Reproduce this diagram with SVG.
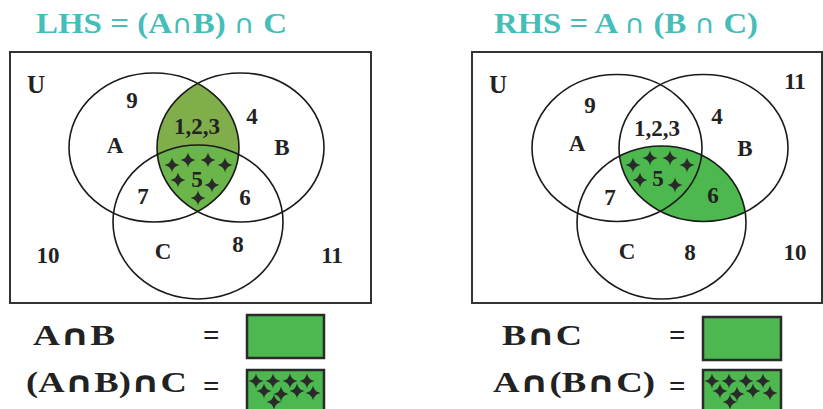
<svg xmlns="http://www.w3.org/2000/svg" xmlns:xlink="http://www.w3.org/1999/xlink" width="823" height="409" viewBox="0 0 823 409">
  <style>
    .title { font-family: "Liberation Serif", "Times New Roman", serif; font-weight: bold; font-size: 30px; fill: #45bdb8; }
    .lbl { font-family: "Liberation Serif", "Times New Roman", serif; font-weight: bold; font-size: 23px; fill: #222; text-anchor: middle; }
    .u { font-family: "Liberation Serif", "Times New Roman", serif; font-weight: bold; font-size: 25px; fill: #222; text-anchor: middle; }
    .leg { font-family: "Liberation Serif", "Times New Roman", serif; font-weight: bold; font-size: 29px; fill: #222; }
    .cap { font-family: "DejaVu Sans", sans-serif; font-weight: bold; font-size: 29px; }
    .capt { font-family: "DejaVu Sans", sans-serif; font-weight: normal; font-size: 26px; }
    .box { fill: none; stroke: #333; stroke-width: 2; }
    .set { fill: none; stroke: #1a1a1a; stroke-width: 1.6; }
    .swatch { fill: #4cb84f; stroke: #2a2a2a; stroke-width: 2.5; }
    .star { fill: #2a2a2a; }
  </style>
  <defs>
    <!-- four-pointed sparkle used as the hatch mark -->
    <path id="star" d="M0,-7.5 Q1.2,-1.2 7.5,0 Q1.2,1.2 0,7.5 Q-1.2,1.2 -7.5,0 Q-1.2,-1.2 0,-7.5Z"/>
    <clipPath id="clipLA"><ellipse cx="154" cy="147.5" rx="85" ry="74.5"/></clipPath>
    <clipPath id="clipLB"><ellipse cx="240.5" cy="147.5" rx="83.5" ry="74.5"/></clipPath>
    <clipPath id="clipLC"><ellipse cx="198" cy="222" rx="85" ry="77"/></clipPath>
    <clipPath id="clipRB"><ellipse cx="703.5" cy="148" rx="84.5" ry="73.5"/></clipPath>
  </defs>

  <rect width="823" height="409" fill="#ffffff"/>

  <!-- left diagram: (A ∩ B) ∩ C -->
  <g id="lhs">
    <text class="title" x="36" y="33" textLength="251" lengthAdjust="spacingAndGlyphs">LHS = (A<tspan class="capt">∩</tspan>B) <tspan class="capt">∩</tspan> C</text>
    <rect class="box" x="10" y="52" width="361" height="251"/>
    <g id="lhs-shade">
      <g clip-path="url(#clipLA)">
        <ellipse cx="240.5" cy="147.5" rx="83.5" ry="74.5" fill="#80ae4a" clip-path="url(#clipLB)"/>
        <g clip-path="url(#clipLB)">
          <ellipse cx="198" cy="222" rx="85" ry="77" fill="#6bb64a" clip-path="url(#clipLC)"/>
        </g>
      </g>
      <g class="star">
        <use xlink:href="#star" x="172" y="165"/>
        <use xlink:href="#star" x="188" y="160"/>
        <use xlink:href="#star" x="208" y="160"/>
        <use xlink:href="#star" x="225" y="165"/>
        <use xlink:href="#star" x="178" y="180"/>
        <use xlink:href="#star" x="212" y="185"/>
        <use xlink:href="#star" x="198" y="198"/>
      </g>
    </g>
    <g id="lhs-A"><ellipse class="set" cx="154" cy="147.5" rx="85" ry="74.5"/></g>
    <g id="lhs-B"><ellipse class="set" cx="240.5" cy="147.5" rx="83.5" ry="74.5"/></g>
    <g id="lhs-C"><ellipse class="set" cx="198" cy="222" rx="85" ry="77"/></g>
    <text class="u" x="36" y="93">U</text>
    <text class="lbl" x="132" y="108">9</text>
    <text class="lbl" x="115" y="153">A</text>
    <text class="lbl" x="197" y="134">1,2,3</text>
    <text class="lbl" x="252" y="124">4</text>
    <text class="lbl" x="282" y="155">B</text>
    <text class="lbl" x="197" y="187">5</text>
    <text class="lbl" x="143" y="204">7</text>
    <text class="lbl" x="245" y="205">6</text>
    <text class="lbl" x="48" y="263">10</text>
    <text class="lbl" x="163" y="259">C</text>
    <text class="lbl" x="238" y="252">8</text>
    <text class="lbl" x="332" y="263">11</text>
  </g>

  <!-- right diagram: A ∩ (B ∩ C) -->
  <g id="rhs">
    <text class="title" x="494" y="33" textLength="264" lengthAdjust="spacingAndGlyphs">RHS = A <tspan class="capt">∩</tspan> (B <tspan class="capt">∩</tspan> C)</text>
    <rect class="box" x="472" y="52" width="350" height="251"/>
    <g id="rhs-shade">
      <ellipse cx="661.5" cy="222.5" rx="84.5" ry="76.5" fill="#4db84d" clip-path="url(#clipRB)"/>
      <g class="star">
        <use xlink:href="#star" x="633" y="165"/>
        <use xlink:href="#star" x="650" y="158"/>
        <use xlink:href="#star" x="670" y="158"/>
        <use xlink:href="#star" x="687" y="165"/>
        <use xlink:href="#star" x="640" y="180"/>
        <use xlink:href="#star" x="675" y="185"/>
      </g>
    </g>
    <g id="rhs-A"><ellipse class="set" cx="617" cy="148" rx="85" ry="73.5"/></g>
    <g id="rhs-B"><ellipse class="set" cx="703.5" cy="148" rx="84.5" ry="73.5"/></g>
    <g id="rhs-C"><ellipse class="set" cx="661.5" cy="222.5" rx="84.5" ry="76.5"/></g>
    <text class="u" x="498" y="93">U</text>
    <text class="lbl" x="795" y="89">11</text>
    <text class="lbl" x="590" y="113">9</text>
    <text class="lbl" x="577" y="151">A</text>
    <text class="lbl" x="657" y="136">1,2,3</text>
    <text class="lbl" x="717" y="124">4</text>
    <text class="lbl" x="745" y="156">B</text>
    <text class="lbl" x="658" y="186">5</text>
    <text class="lbl" x="610" y="205">7</text>
    <text class="lbl" x="713" y="203">6</text>
    <text class="lbl" x="627" y="259">C</text>
    <text class="lbl" x="690" y="260">8</text>
    <text class="lbl" x="795" y="260">10</text>
  </g>

  <!-- legends -->
  <g id="legend-left">
    <text class="leg" x="33" y="345" textLength="82" lengthAdjust="spacingAndGlyphs">A<tspan class="cap">∩</tspan>B</text>
    <text class="leg" x="203" y="345">=</text>
    <rect class="swatch" x="247" y="315" width="77" height="43"/>
    <text class="leg" x="26" y="392" textLength="161" lengthAdjust="spacingAndGlyphs">(A<tspan class="cap">∩</tspan>B)<tspan class="cap">∩</tspan>C</text>
    <text class="leg" x="203" y="396">=</text>
    <rect class="swatch" x="247" y="370" width="77" height="44"/>
    <g class="star">
      <use xlink:href="#star" x="256" y="381"/>
      <use xlink:href="#star" x="273" y="381"/>
      <use xlink:href="#star" x="290" y="381"/>
      <use xlink:href="#star" x="307" y="381"/>
      <use xlink:href="#star" x="264" y="391"/>
      <use xlink:href="#star" x="281" y="394"/>
      <use xlink:href="#star" x="297" y="391"/>
      <use xlink:href="#star" x="313" y="393"/>
      <use xlink:href="#star" x="274" y="402"/>
    </g>
  </g>
  <g id="legend-right">
    <text class="leg" x="502" y="345" textLength="80" lengthAdjust="spacingAndGlyphs">B<tspan class="cap">∩</tspan>C</text>
    <text class="leg" x="669" y="345">=</text>
    <rect class="swatch" x="703" y="317" width="78" height="43"/>
    <text class="leg" x="493" y="392" textLength="162" lengthAdjust="spacingAndGlyphs">A<tspan class="cap">∩</tspan>(B<tspan class="cap">∩</tspan>C)</text>
    <text class="leg" x="669" y="396">=</text>
    <rect class="swatch" x="703" y="370" width="78" height="44"/>
    <g class="star">
      <use xlink:href="#star" x="712" y="381"/>
      <use xlink:href="#star" x="729" y="381"/>
      <use xlink:href="#star" x="746" y="381"/>
      <use xlink:href="#star" x="763" y="381"/>
      <use xlink:href="#star" x="720" y="391"/>
      <use xlink:href="#star" x="737" y="394"/>
      <use xlink:href="#star" x="753" y="391"/>
      <use xlink:href="#star" x="770" y="393"/>
      <use xlink:href="#star" x="730" y="402"/>
    </g>
  </g>
</svg>
